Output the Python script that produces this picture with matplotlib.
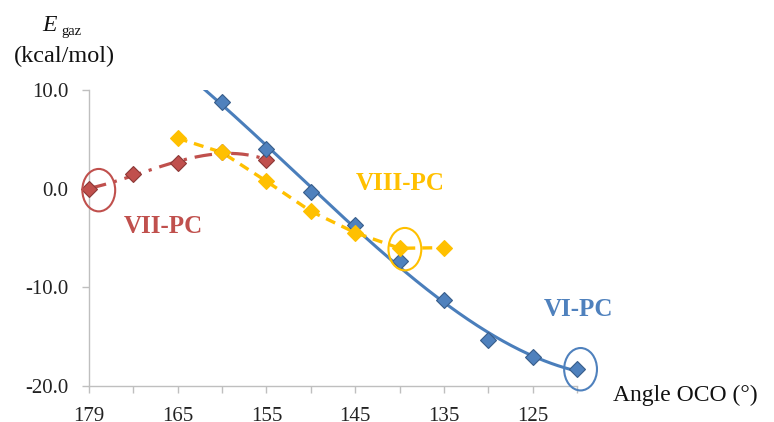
import numpy as np
import matplotlib
matplotlib.use("Agg")
import matplotlib.pyplot as plt
from matplotlib.patches import Ellipse

plt.rcParams['font.family'] = ['Liberation Serif', 'DejaVu Serif']

# ---- data ----
vi_angle = [160, 155, 150, 145, 140, 135, 130, 125, 120]
vi_energy = [8.81, 3.99, -0.36, -3.68, -7.31, -11.28, -15.33, -17.02, -18.27]

vii_angle = [175, 170, 165, 160, 155]
vii_energy = [0.0, 1.46, 2.57, 3.69, 2.91]

viii_angle = [165, 160, 155, 150, 145, 140, 135]
viii_energy = [5.11, 3.67, 0.75, -2.29, -4.46, -6.04, -5.98]

x_major = [175, 165, 155, 145, 135, 125]
x_major_labels = ["179", "165", "155", "145", "135", "125"]
y_ticks = [10, 0, -10, -20]
y_tick_labels = ["10.0", "0.0", "-10.0", "-20.0"]

BLUE = '#4F81BD'
BLUE_EDGE = '#385D8A'
RED = '#C0504D'
RED_EDGE = '#8C3836'
YELLOW = '#FFC000'
GRAY = '#BFBFBF'

fig = plt.figure(figsize=(7.74, 4.22), dpi=100)
ax = fig.add_axes([0.115, 0.0853, 0.6305, 0.7014])

# VII-PC (red): smooth trend, dash-dot
cr = np.polyfit(vii_angle, vii_energy, 3)
xr = np.linspace(max(vii_angle), min(vii_angle), 200)
ax.plot(xr, np.polyval(cr, xr), color=RED, lw=2.3, dashes=(5.5, 2.5, 1, 2.5), zorder=2)
ax.plot(vii_angle, vii_energy, ls='none', marker='D', ms=8.3, mfc=RED, mec=RED_EDGE, mew=0.8,
        zorder=4, clip_on=False)

# VI-PC (blue): polynomial trend line
cb = np.polyfit(vi_angle, vi_energy, 3)
xb = np.linspace(166, min(vi_angle), 300)
ax.plot(xb, np.polyval(cb, xb), color='#4A7EBB', lw=2.2, zorder=3)
ax.plot(vi_angle, vi_energy, ls='none', marker='D', ms=8.3, mfc=BLUE, mec=BLUE_EDGE, mew=0.8,
        zorder=5, clip_on=False)

# VIII-PC (yellow): dashed
ax.plot(viii_angle, viii_energy, color=YELLOW, lw=2.4, dashes=(3, 2.1), zorder=3)
ax.plot(viii_angle, viii_energy, ls='none', marker='D', ms=8.3, mfc=YELLOW, mec=YELLOW, mew=0.8,
        zorder=5, clip_on=False)

ax.set_xlim(175, 120)
ax.set_ylim(-20, 10)

for s in ['top', 'right']:
    ax.spines[s].set_visible(False)
for s in ['left', 'bottom']:
    ax.spines[s].set_color(GRAY)
    ax.spines[s].set_linewidth(1.0)

ax.set_xticks(x_major)
ax.set_xticklabels(x_major_labels)
ax.set_xticks(list(range(120, 176, 5)), minor=True)
ax.set_yticks(y_ticks)
ax.set_yticklabels(y_tick_labels)
ax.tick_params(axis='both', which='both', direction='out', length=5, color=GRAY,
               width=1.0, labelsize=15, labelcolor='#222222')
ax.tick_params(axis='x', which='both', pad=10)
ax.tick_params(axis='y', pad=10)

# ellipses marking selected points
for (cx, cy, col) in [(173.9, -0.15, RED), (139.4, -6.13, YELLOW), (119.6, -18.3, BLUE)]:
    e = Ellipse((cx, cy), 3.7, 4.3, fill=False, ec=col, lw=1.5, clip_on=False, zorder=6)
    ax.add_patch(e)

# series labels
ax.text(166.6, -3.8, "VII-PC", color=RED, fontsize=18, fontweight='bold', ha='center', va='center')
ax.text(139.9, 0.5, "VIII-PC", color=YELLOW, fontsize=18, fontweight='bold', ha='center', va='center')
ax.text(119.8, -12.2, "VI-PC", color=BLUE, fontsize=18, fontweight='bold', ha='center', va='center',
        clip_on=False)

# axis titles
fig.text(613 / 774, 1 - 401 / 422, "Angle OCO (°)", fontsize=17, ha='left', va='baseline', color='#111111')
fig.text(42 / 774, 1 - 31 / 422, "E", fontsize=17, style='italic', ha='left', va='baseline', color='#111111')
fig.text(61 / 774, 1 - 35 / 422, "gaz", fontsize=10.5, ha='left', va='baseline', color='#111111')
fig.text(64 / 774, 1 - 62 / 422, "(kcal/mol)", fontsize=17.5, ha='center', va='baseline', color='#111111')

fig.savefig("out.png", dpi=100)
